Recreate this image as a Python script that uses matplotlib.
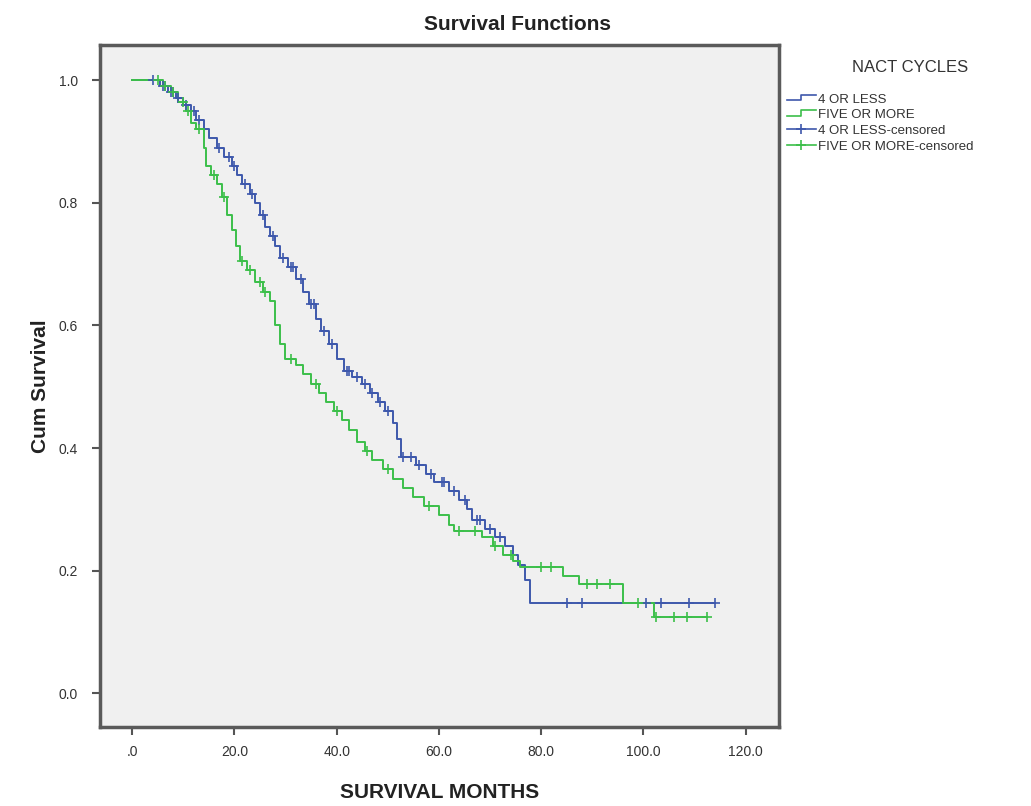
import numpy as np
import matplotlib.pyplot as plt
from matplotlib.lines import Line2D
from matplotlib.legend_handler import HandlerBase

plt.rcParams['font.family'] = ['Liberation Sans', 'DejaVu Sans']

# ---- data ---- #
# 4 OR LESS : step points (time, cumulative survival)
t_four = [0, 5.5, 7, 8.5, 10, 11.5, 12.5, 14, 15, 16.5, 18, 19.5, 20.5, 21.5, 23, 24,
          25, 26, 27, 28, 29, 30.5, 32, 33.5, 34.5, 36, 37, 38.5, 40, 41.5, 43, 45,
          46.5, 48, 49.5, 51, 51.8, 52.5, 55.5, 57.5, 59, 62, 64, 65.5, 66.5, 69, 71,
          73, 74.5, 75.5, 76.8, 77.9, 114]
s_four = [1.0, 0.99, 0.98, 0.97, 0.96, 0.95, 0.935, 0.92, 0.905, 0.89, 0.875, 0.86, 0.845,
          0.83, 0.815, 0.80, 0.78, 0.76, 0.745, 0.73, 0.71, 0.695, 0.675, 0.655, 0.635,
          0.61, 0.59, 0.57, 0.545, 0.525, 0.515, 0.505, 0.49, 0.475, 0.46, 0.44, 0.415,
          0.385, 0.372, 0.358, 0.345, 0.33, 0.315, 0.30, 0.282, 0.268, 0.255, 0.24, 0.225,
          0.21, 0.185, 0.148, 0.148]
c_four = [4, 6, 6.5, 7.5, 8, 9, 10.5, 12, 13, 17, 19, 20, 22, 23.5, 25.5, 27.5, 29.5, 31,
          31.5, 33, 35, 35.5, 37.5, 39, 42, 42.5, 44, 45.5, 47, 48.5, 50, 53, 54.5, 56,
          58.5, 60.5, 61, 63, 65, 67.5, 68, 70, 72, 85, 88, 100.5, 103.5, 109, 114]

# FIVE OR MORE
t_five = [0, 6, 7.5, 9, 10.5, 11.5, 12.5, 14, 14.5, 15.5, 16.5, 17.5, 18.5, 19.5, 20.3,
          21, 22.5, 24, 25.5, 27, 28, 29, 29.8, 32, 33.5, 35, 36.5, 38, 39.5, 41, 42.5,
          44, 45.5, 47, 49, 51, 53, 55, 57, 60, 62, 63, 68.5, 70.5, 72.5, 74.5, 75.8,
          84.3, 87.3, 96, 102, 112.5]
s_five = [1.0, 0.99, 0.98, 0.965, 0.95, 0.93, 0.92, 0.89, 0.86, 0.845, 0.83, 0.81, 0.78,
          0.755, 0.73, 0.705, 0.69, 0.67, 0.655, 0.64, 0.60, 0.57, 0.545, 0.535, 0.52,
          0.505, 0.49, 0.475, 0.46, 0.445, 0.43, 0.41, 0.395, 0.38, 0.365, 0.35, 0.335,
          0.32, 0.305, 0.29, 0.275, 0.265, 0.255, 0.24, 0.225, 0.215, 0.206, 0.192,
          0.179, 0.148, 0.124, 0.124]
c_five = [5, 6.5, 8, 10, 11, 13, 16, 18, 21.5, 23, 25, 26, 31, 36, 40, 46, 50, 58, 64, 67,
          71, 74, 80, 82, 89, 91, 93.5, 99, 102.5, 106, 108.5, 112.5]

x_ticks = [0, 20, 40, 60, 80, 100, 120]
x_labels = ['.0', '20.0', '40.0', '60.0', '80.0', '100.0', '120.0']
y_ticks = [0.0, 0.2, 0.4, 0.6, 0.8, 1.0]
y_labels = ['0.0', '0.2', '0.4', '0.6', '0.8', '1.0']

BLUE = '#3e58ac'
GREEN = '#3cbf4a'


def surv_at(times, surv, c):
    idx = np.searchsorted(times, c, side='right') - 1
    return np.asarray(surv)[idx]


class StepHandler(HandlerBase):
    # small step-shaped legend icon, like SPSS draws it
    def create_artists(self, legend, orig_handle, xd, yd, w, h, fontsize, trans):
        xs = [xd, xd + w * 0.5, xd + w * 0.5, xd + w]
        ys = [yd + h * 0.25, yd + h * 0.25, yd + h * 0.85, yd + h * 0.85]
        ln = Line2D(xs, ys, color=orig_handle.get_color(), lw=1.2, transform=trans)
        return [ln]


fig = plt.figure(figsize=(10.31, 8.06), dpi=100)
ax = fig.add_axes([0.097, 0.098, 0.659, 0.846])
ax.set_facecolor('#f0f0f0')

l1, = ax.step(t_four, s_four, where='post', color=BLUE, lw=1.4)
l2, = ax.step(t_five, s_five, where='post', color=GREEN, lw=1.4)
m1, = ax.plot(c_four, surv_at(t_four, s_four, c_four), '+', color=BLUE, ms=7, mew=1.2)
m2, = ax.plot(c_five, surv_at(t_five, s_five, c_five), '+', color=GREEN, ms=7, mew=1.2)

ax.set_xlim(-6.3, 126.6)
ax.set_ylim(-0.055, 1.057)
ax.set_xticks(x_ticks)
ax.set_xticklabels(x_labels)
ax.set_yticks(y_ticks)
ax.set_yticklabels(y_labels)
ax.tick_params(direction='out', length=6, width=1.5, color='#555555',
               labelsize=10, labelcolor='#333333')
ax.tick_params(axis='x', pad=7)
ax.tick_params(axis='y', pad=10)
for sp in ax.spines.values():
    sp.set_linewidth(2.5)
    sp.set_color('#5a5a5a')

ax.set_xlabel('SURVIVAL MONTHS', fontsize=15, fontweight='bold', color='#222222', labelpad=17)
ax.set_ylabel('Cum Survival', fontsize=15, fontweight='bold', color='#222222', labelpad=6)
fig.text(0.502, 0.969, 'Survival Functions', fontsize=15, fontweight='bold',
         color='#222222', ha='center', va='center')

fig.text(0.883, 1 - 68 / 806, 'NACT CYCLES', fontsize=12, color='#333333',
         ha='center', va='center')
h3 = Line2D([], [], color=BLUE, lw=1.2, marker='+', ms=7, mew=1.2)
h4 = Line2D([], [], color=GREEN, lw=1.2, marker='+', ms=7, mew=1.2)
leg = fig.legend([l1, l2, h3, h4],
                 ['4 OR LESS', 'FIVE OR MORE', '4 OR LESS-censored', 'FIVE OR MORE-censored'],
                 loc='upper left', bbox_to_anchor=(0.758, 1 - 88 / 806), frameon=False,
                 fontsize=9.5, borderaxespad=0,
                 handlelength=2.2, handletextpad=0.2, labelspacing=0.27,
                 handler_map={l1: StepHandler(), l2: StepHandler()})
for txt in leg.get_texts():
    txt.set_color('#333333')

fig.savefig('out.png', dpi=100)
